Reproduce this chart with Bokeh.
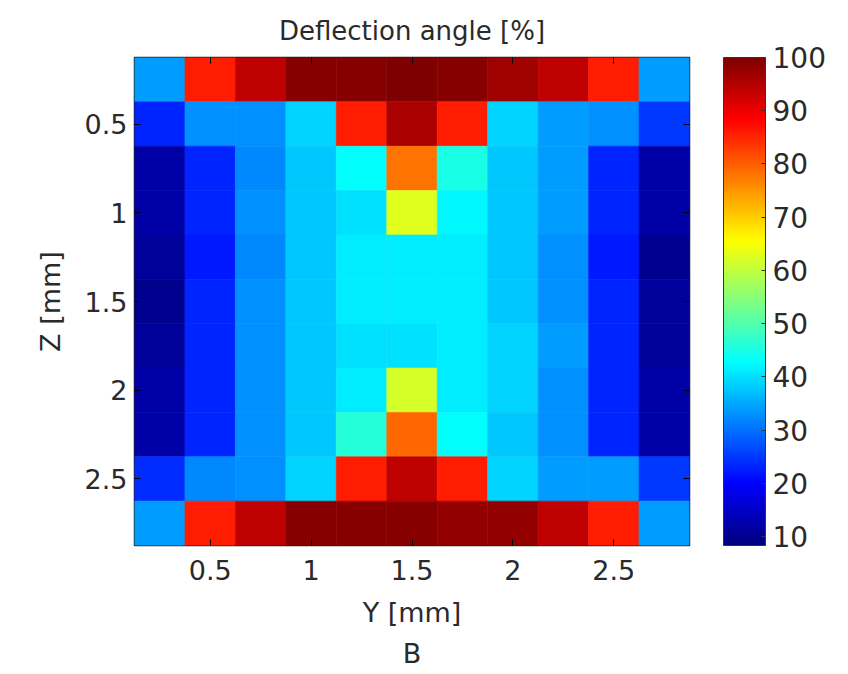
from bokeh.plotting import figure
from bokeh.models import (ColumnDataSource, LinearColorMapper, ColorBar, FixedTicker,
                          Range1d, LinearAxis, Title)
from bokeh.embed import file_html
from bokeh.resources import INLINE

# ---- data ----
y_mm = [0.25, 0.5, 0.75, 1.0, 1.25, 1.5, 1.75, 2.0, 2.25, 2.5, 2.75]
z_mm = [0.25, 0.5, 0.75, 1.0, 1.25, 1.5, 1.75, 2.0, 2.25, 2.5, 2.75]
row0 = [34, 86, 94, 99, 99, 100, 99, 97, 94, 86, 34]
row1 = [23, 33, 33, 39, 86, 96, 86, 39, 34, 33, 25]
row2 = [12, 23, 32, 38, 43, 78, 45, 38, 34, 23, 12]
row3 = [12, 23, 33, 38, 40, 63, 42, 38, 34, 23, 12]
row4 = [11, 22, 32, 38, 41, 41, 41, 38, 33, 22, 10]
row5 = [10, 23, 33, 38, 41, 41, 41, 38, 33, 23, 11]
row6 = [11, 23, 33, 38, 40, 40, 41, 39, 34, 23, 11]
row7 = [12, 23, 33, 38, 41, 62, 41, 39, 33, 23, 12]
row8 = [12, 23, 33, 38, 46, 79, 43, 38, 33, 23, 12]
row9 = [24, 32, 33, 39, 86, 94, 86, 39, 34, 34, 25]
row10 = [34, 86, 94, 99, 99, 99, 98, 98, 94, 86, 34]
rows = [row0, row1, row2, row3, row4, row5, row6, row7, row8, row9, row10]
tick_vals = [0.5, 1, 1.5, 2, 2.5]
cbar_ticks = [10, 20, 30, 40, 50, 60, 70, 80, 90, 100]
v_low, v_high = 8.3, 100

# ---- jet palette ----
def jet(n=256):
    out = []
    for i in range(n):
        t = i / (n - 1)
        r = min(max(1.5 - abs(4 * t - 3), 0), 1)
        g = min(max(1.5 - abs(4 * t - 2), 0), 1)
        b = min(max(1.5 - abs(4 * t - 1), 0), 1)
        out.append("#%02x%02x%02x" % (int(r * 255), int(g * 255), int(b * 255)))
    return out

pal = jet()
xs, ys, vs = [], [], []
for zi, row in zip(z_mm, rows):
    for yi, v in zip(y_mm, row):
        xs.append(yi); ys.append(zi); vs.append(v)
src = ColumnDataSource(dict(x=xs, y=ys, v=vs))
mapper = LinearColorMapper(palette=pal, low=v_low, high=v_high)

FONT = "DejaVu Sans"
TXT = "#2a2a2a"
p = figure(width=848, height=674, output_backend="svg", toolbar_location=None,
           x_range=Range1d(0.125, 2.875), y_range=Range1d(2.875, 0.125),
           min_border_left=134, min_border_right=159, min_border_top=57,
           min_border_bottom=129, x_axis_location="below")
p.rect(x="x", y="y", width=0.25, height=0.25, source=src,
       fill_color={"field": "v", "transform": mapper},
       line_color={"field": "v", "transform": mapper}, line_width=0.6)
p.grid.visible = False
p.outline_line_color = "#222222"
p.outline_line_width = 1.5
p.background_fill_color = "white"

for ax in (p.xaxis[0], p.yaxis[0]):
    ax.ticker = FixedTicker(ticks=tick_vals)
    ax.major_tick_in = 6
    ax.major_tick_out = 0
    ax.minor_tick_line_color = None
    ax.axis_line_color = None
    ax.major_label_text_font = FONT
    ax.major_label_text_font_size = "27px"
    ax.major_label_text_color = TXT
    ax.axis_label_text_font = FONT
    ax.axis_label_text_font_size = "27px"
    ax.axis_label_text_font_style = "normal"
    ax.axis_label_text_color = TXT
p.xaxis[0].axis_label = "Y [mm]"
p.yaxis[0].axis_label = "Z [mm]"
p.xaxis[0].major_label_standoff = 14
p.yaxis[0].major_label_standoff = 7
p.xaxis[0].axis_label_standoff = 14
p.yaxis[0].axis_label_standoff = 16
p.yaxis[0].major_label_orientation = "horizontal"

for loc in ("above", "right"):
    ax = LinearAxis(ticker=FixedTicker(ticks=tick_vals), major_tick_in=6,
                    major_tick_out=0, minor_tick_line_color=None,
                    axis_line_color=None, major_label_text_color=None,
                    major_label_text_font_size="0px", major_label_standoff=0)
    p.add_layout(ax, loc)

cb = ColorBar(color_mapper=mapper, ticker=FixedTicker(ticks=cbar_ticks),
              width=42, padding=0, margin=0, location=(34, 0),
              major_label_text_font=FONT, major_label_text_font_size="28px",
              major_label_text_color=TXT, major_tick_line_color="#333333",
              major_tick_in=4, major_tick_out=0, bar_line_color="#333333",
              label_standoff=7, border_line_color=None, background_fill_color=None)
p.add_layout(cb, "right")

p.title.text = "Deflection angle [%]"
p.title.align = "center"
p.title.text_font = FONT
p.title.text_font_size = "26px"
p.title.text_font_style = "normal"
p.title.text_color = TXT
p.title.standoff = 23

p.add_layout(Title(text="B", align="center", text_font=FONT, text_font_size="27px",
                   text_font_style="normal", text_color=TXT, standoff=10), "below")

open("out.html", "w").write(file_html(p, INLINE))
